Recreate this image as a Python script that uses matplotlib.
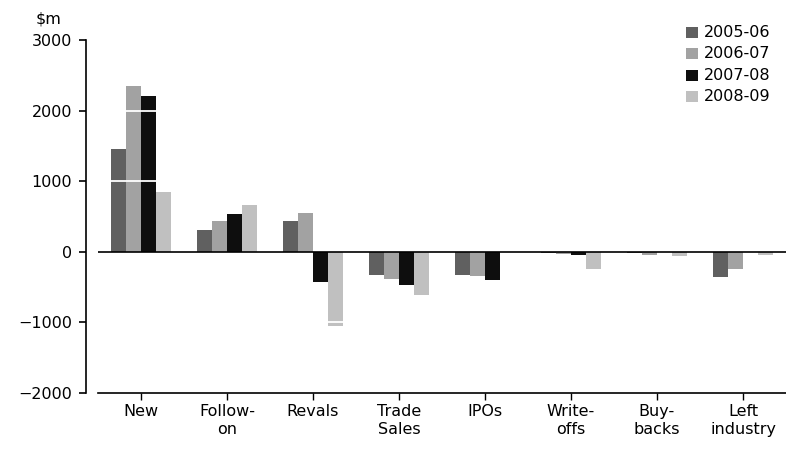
import numpy as np
import matplotlib
matplotlib.use("Agg")
import matplotlib.pyplot as plt
from matplotlib.patches import Rectangle

plt.rcParams['font.family'] = ['DejaVu Sans']

categories = ["New", "Follow-\non", "Revals", "Trade\nSales", "IPOs",
              "Write-\noffs", "Buy-\nbacks", "Left\nindustry"]
series_names = ["2005-06", "2006-07", "2007-08", "2008-09"]
v_2005_06 = [1460, 310, 440, -335, -335, -15, -10, -360]
v_2006_07 = [2350, 435, 550, -390, -350, -35, -45, -250]
v_2007_08 = [2210, 535, -435, -465, -405, -50, 0, 0]
v_2008_09 = [850, 665, -1060, -620, 0, -245, -60, -50]
series_values = [v_2005_06, v_2006_07, v_2007_08, v_2008_09]
colors = ["#606060", "#a2a2a2", "#0e0e0e", "#c0c0c0"]
y_ticks = [-2000, -1000, 0, 1000, 2000, 3000]

FS = 11.5
W, H = 786, 450
fig = plt.figure(figsize=(W / 100, H / 100), dpi=100)
ax = fig.add_axes([98 / W, 1 - 392.7 / H, 688 / W, (392.7 - 40.5) / H])

x = np.arange(len(categories))
bw = 0.177
for i, (vals, c) in enumerate(zip(series_values, colors)):
    ax.bar(x + (i - 1.5) * bw, vals, width=bw, color=c, zorder=2, linewidth=0)

# white rules crossing the bars at the major levels
for yv in [-1000, 1000, 2000]:
    ax.axhline(yv, color="white", lw=1.3, zorder=3)
ax.axhline(0, color="black", lw=1.2, zorder=4)

ax.set_xlim(-0.5, len(categories) - 0.5)
ax.set_ylim(-2000, 3000)
ax.set_yticks(y_ticks)
ax.set_yticklabels([f"{t}".replace("-", "\u2212") for t in y_ticks])
ax.set_xticks(x)
ax.set_xticklabels(categories, linespacing=1.3)

for s in ["top", "right"]:
    ax.spines[s].set_visible(False)
ax.spines["left"].set_position(("outward", 12 * 72 / 100))
ax.spines["left"].set_linewidth(1.2)
ax.spines["bottom"].set_linewidth(1.2)
ax.tick_params(axis="y", direction="out", length=5, width=1.2, pad=5.0,
               labelsize=FS)
ax.tick_params(axis="x", direction="out", length=5, width=1.0, pad=3.0,
               labelsize=FS)

fig.text(49 / W, 1 - 19 / H, "$m", ha="center", va="center", fontsize=FS)

# legend
for i, (name, c) in enumerate(zip(series_names, colors)):
    yc = 32.5 + i * 21.3
    fig.add_artist(Rectangle((686 / W, 1 - (yc + 5.5) / H), 11.5 / W, 11 / H,
                             transform=fig.transFigure, color=c, lw=0))
    fig.text(704 / W, 1 - yc / H, name, ha="left", va="center", fontsize=FS)

fig.savefig("out.png", dpi=100)
